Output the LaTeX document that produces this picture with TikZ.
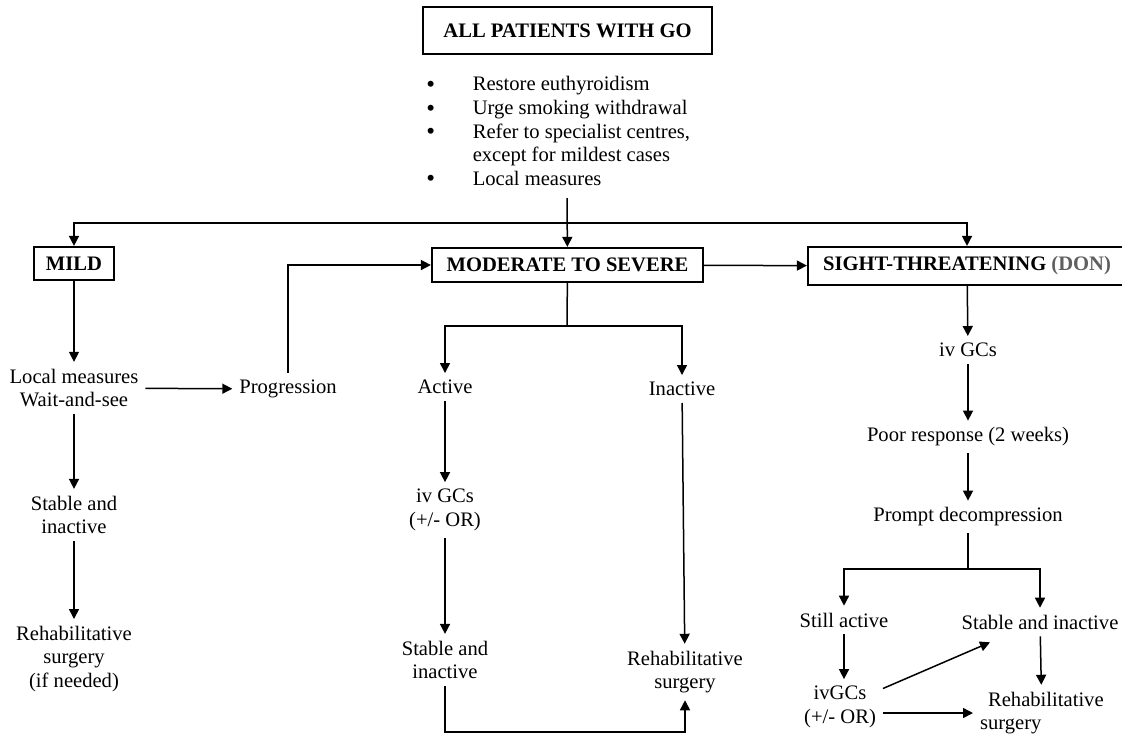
\documentclass[tikz,border=0pt]{standalone}
\usepackage{fontspec}
\setmainfont{Liberation Serif}
\usetikzlibrary{arrows.meta}
\definecolor{dongray}{RGB}{95,95,95}
\newcommand{\bul}{\smash{\raisebox{-0.8pt}{\fontsize{12.5}{11.8}\selectfont\textbullet}}}
\tikzset{
        txt/.style={font=\fontsize{10.3}{11.8}\selectfont, align=center},
        stage/.style={draw, line width=1.1pt, inner sep=0pt, font=\fontsize{10.3}{11.8}\selectfont\bfseries},
        arr/.style={line width=0.75pt, -{Triangle[length=5pt,width=5pt]}},
        ln/.style={line width=0.75pt}
}

\begin{document}
\begin{tikzpicture}[x=0.5pt,y=-0.5pt]
        \useasboundingbox (0,0) rectangle (1122,735);
        \clip (0,0) rectangle (1122,735);

        \node[stage, minimum width=144.5pt, minimum height=23.5pt] (all) at (567.5,30.5) {ALL PATIENTS WITH GO};
        \node[txt, anchor=north west, inner sep=0pt] (list) at (426,74) {\begin{tabular}{@{}l@{\hspace{18.8pt}}l@{}}
                \bul & Restore euthyroidism\\
                \bul & Urge smoking withdrawal\\
                \bul & Refer to specialist centres,\\
                     & except for mildest cases\\
                \bul & Local measures
        \end{tabular}};

        \node[stage, minimum width=40pt, minimum height=16.5pt] (mild) at (74,263.5) {MILD};
        \node[stage, minimum width=135.5pt, minimum height=17pt] (mod) at (567.5,265) {MODERATE TO SEVERE};
        \node[stage, minimum width=159pt, minimum height=19pt] (don) at (967,266) {SIGHT-THREATENING \textcolor{dongray}{(DON)}};

        \node[txt] (local) at (74,388) {Local measures\\Wait-and-see};
        \node[txt] (prog) at (288,389) {Progression};
        \node[txt] (stab1) at (74,515) {Stable and\\inactive};
        \node[txt] (rehab1) at (74,659) {Rehabilitative\\surgery\\(if needed)};

        \node[txt] (active) at (445,387) {Active};
        \node[txt] (inactive) at (682,389) {Inactive};
        \node[txt] (ivgc1) at (445,510) {iv GCs\\(+/- OR)};
        \node[txt] (stab2) at (445,660) {Stable and\\inactive};
        \node[txt] (rehab2) at (685,672) {Rehabilitative\\surgery};

        \node[txt] (ivgc2) at (968,350) {iv GCs};
        \node[txt] (poor) at (968,437) {Poor response (2 weeks)};
        \node[txt] (prompt) at (968,517) {Prompt decompression};
        \node[txt] (still) at (844,620) {Still active};
        \node[txt] (stab3) at (1040,622) {Stable and inactive};
        \node[txt] (ivgc3) at (840,707) {ivGCs\\(+/- OR)};
        \node[txt, align=left, anchor=west] (rehab3) at (973,713) {\hspace{4pt}Rehabilitative\\surgery};

        \coordinate (listend) at (567,198);
        \coordinate (fork) at (567,223);
        \coordinate (mfork) at (567,326);
        \coordinate (mbot) at (445,732);
        \coordinate (dfork) at (968,569);

        \draw[arr] (listend) -- (mod);
        \draw[arr] (fork) -| (mild);
        \draw[arr] (fork) -| (don);
        \draw[arr] (mod) -- (don);

        \draw[arr] (mild) -- (local);
        \draw[arr] (local) -- (prog);
        \draw[arr] (prog) |- (mod);
        \draw[arr] (local) -- (stab1);
        \draw[arr] (stab1) -- (rehab1);

        \draw[ln] (mod) -- (mfork);
        \draw[arr] (mfork) -| (active);
        \draw[arr] (mfork) -| (inactive);
        \draw[arr] (active) -- (ivgc1);
        \draw[arr] (ivgc1) -- (stab2);
        \draw[arr] (stab2) -- (mbot) -| (rehab2);
        \draw[arr] (inactive) -- (rehab2);

        \draw[arr] (don) -- (ivgc2);
        \draw[arr] (ivgc2) -- (poor);
        \draw[arr] (poor) -- (prompt);
        \draw[ln] (prompt) -- (dfork);
        \draw[arr] (dfork) -| (still);
        \draw[arr] (dfork) -| (stab3);
        \draw[arr] (still) -- (still |- ivgc3.north);
        \draw[arr] (ivgc3) -- ([xshift=-25pt,yshift=-3pt]stab3.south);
        \draw[arr] (ivgc3.east |- rehab3.west) -- (rehab3.west);
        \draw[arr] (stab3) -- (rehab3);
\end{tikzpicture}
\end{document}
